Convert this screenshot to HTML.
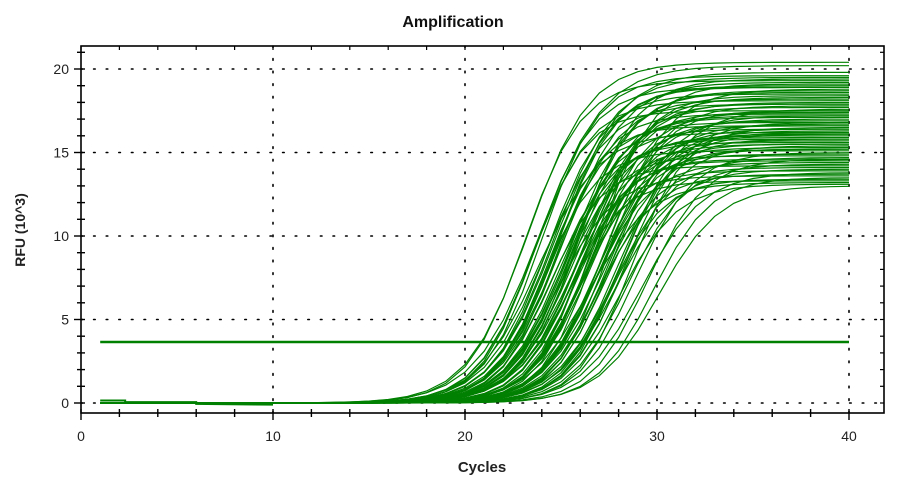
<!DOCTYPE html>
<html><head><meta charset="utf-8"><style>
body{margin:0;background:#fff;}
svg{display:block;font-family:"Liberation Sans",Arial,sans-serif;}
</style></head><body>
<svg id="chart" width="900" height="483" viewBox="0 0 900 483">
<text x="453" y="27" text-anchor="middle" font-size="16" font-weight="bold" fill="#111">Amplification</text>
<text x="482" y="472" text-anchor="middle" font-size="15" font-weight="bold" fill="#222">Cycles</text>
<text transform="translate(25,230) rotate(-90)" text-anchor="middle" font-size="14" font-weight="bold" fill="#222">RFU (10^3)</text>
<g id="grid"></g>
<g id="curves"></g>
<g id="axes"></g>
</svg>
<script>
const xTicks = [0, 10, 20, 30, 40];
const yTicks = [0, 5, 10, 15, 20];
const threshold = 3.65;
const wellMid = [23.1,23.3,23.5,23.7,23.8,24.0,24.1,24.2,24.3,24.4,24.5,24.6,24.7,24.7,24.8,24.9,25.0,25.1,25.1,25.2,25.3,25.4,25.5,25.5,25.6,25.7,25.8,25.9,25.9,26.0,26.1,26.2,26.2,26.3,26.4,26.5,26.6,26.7,26.7,26.8,26.9,27.0,27.1,27.2,27.2,27.3,27.4,27.5,27.6,27.7,27.8,27.9,28.0,28.1,28.3,28.5,28.7,28.9,29.2,29.5,29.8,30.1,23.9,24.9,25.7,26.5,27.3,28.2,23.6,24.3,24.6,25.0,25.4,25.8,26.1,26.4,26.9,27.4,27.9,28.4,24.8,25.6,26.3,27.1];
const wellMax = [19.3,20.4,17.5,18.9,16.2,19.6,15.1,17.9,18.5,14.2,16.8,19.0,15.6,17.3,13.6,18.2,16.4,14.8,19.2,15.9,17.1,13.3,18.7,16.0,14.5,17.7,15.3,19.4,13.9,16.6,18.0,14.9,17.4,15.7,13.2,16.9,18.4,14.4,17.0,15.5,19.1,13.7,16.3,17.8,14.1,15.2,18.8,16.7,13.4,17.2,14.7,16.1,15.8,13.1,17.6,14.3,16.5,15.0,13.8,14.6,13.5,13.0,20.2,19.8,18.6,17.4,16.2,15.4,18.1,16.6,19.5,15.8,17.2,14.6,18.3,16.1,15.2,17.5,14.0,16.8,18.9,15.5,17.9,16.4];
const wellSlope = [1.5,1.6,1.4,1.5,1.6,1.5,1.4,1.6,1.5,1.4,1.5,1.6,1.5,1.4,1.5,1.6,1.5,1.4,1.6,1.5,1.5,1.4,1.6,1.5,1.4,1.5,1.6,1.5,1.4,1.5,1.6,1.5,1.4,1.5,1.6,1.5,1.4,1.5,1.6,1.5,1.4,1.5,1.6,1.5,1.4,1.5,1.6,1.5,1.4,1.5,1.6,1.5,1.4,1.5,1.6,1.5,1.4,1.5,1.6,1.5,1.5,1.6,1.7,1.6,1.5,1.5,1.6,1.5,1.5,1.4,1.6,1.5,1.5,1.4,1.6,1.5,1.5,1.4,1.6,1.5,1.5,1.6,1.4,1.5];
const cycles = Array.from({length:40},(_, i)=>i+1);

const L=81, R=884, T=46, B=413;
const xs = v => 81 + v*19.2;
const ys = v => 403 - v*16.7;
const NS="http://www.w3.org/2000/svg";
function mk(tag, attrs, parent){const e=document.createElementNS(NS,tag);for(const k in attrs)e.setAttribute(k,attrs[k]);parent.appendChild(e);return e;}
const grid=document.getElementById('grid'), axes=document.getElementById('axes'), curves=document.getElementById('curves');

yTicks.forEach(v=>{
  const g=mk('line',{x1:L,x2:R,y1:ys(v),y2:ys(v),stroke:'#000','stroke-width':1.6,'stroke-dasharray':'1.6 11','stroke-linecap':'round'},grid);
  
  
});
xTicks.slice(1).forEach(v=>{
  const g=mk('line',{x1:xs(v),x2:xs(v),y1:T,y2:B,stroke:'#000','stroke-width':1.6,'stroke-dasharray':'1.6 11','stroke-linecap':'round'},grid);
  
  
});

const base=mk('polyline',{points:`${xs(1)},${ys(0.15)} ${xs(2.3)},${ys(0.15)} ${xs(2.3)},${ys(0.05)} ${xs(6)},${ys(0.05)} ${xs(6)},${ys(-0.05)} ${xs(10)},${ys(-0.1)}`,fill:'none',stroke:'#008000','stroke-width':2},curves);



wellMid.forEach((m,i)=>{
  const pts=cycles.map(c=>{const v=wellMax[i]/(1+Math.exp(-(c-m)/wellSlope[i]));return xs(c).toFixed(1)+','+ys(v).toFixed(1);}).join(' ');
  const p=mk('polyline',{points:pts,fill:'none',stroke:'#008000','stroke-width':1.2},curves);
  
  
});

const th=mk('line',{x1:xs(1),x2:xs(40),y1:ys(threshold),y2:ys(threshold),stroke:'#008000','stroke-width':2.5},curves);



const frame=mk('rect',{x:L,y:T,width:R-L,height:B-T,fill:'none',stroke:'#000','stroke-width':1.6},axes);



for(let v=0;v<=21;v++){
  const big=v%5===0;
  const t=mk('line',{x1:L-(big?7:4),x2:L+4,y1:ys(v),y2:ys(v),stroke:'#000','stroke-width':1.4},axes);
  
  
  const t2=mk('line',{x1:R-4,x2:R,y1:ys(v),y2:ys(v),stroke:'#000','stroke-width':1.2},axes);
  
  
}
for(let v=0;v<=41;v+=2){
  const big=v%10===0;
  const t=mk('line',{x1:xs(v),x2:xs(v),y1:B-4,y2:B+(big?7:4),stroke:'#000','stroke-width':1.4},axes);
  
  
  const t2=mk('line',{x1:xs(v),x2:xs(v),y1:T,y2:T+4,stroke:'#000','stroke-width':1.2},axes);
  
  
}
yTicks.forEach(v=>{
  const t=mk('text',{x:L-12,y:ys(v)+5,'text-anchor':'end','font-size':14,fill:'#222'},axes);
  t.textContent=v;
  
  
});
xTicks.forEach(v=>{
  const t=mk('text',{x:xs(v),y:441,'text-anchor':'middle','font-size':14,fill:'#222'},axes);
  t.textContent=v;
  
  
});
</script>
</body></html>
